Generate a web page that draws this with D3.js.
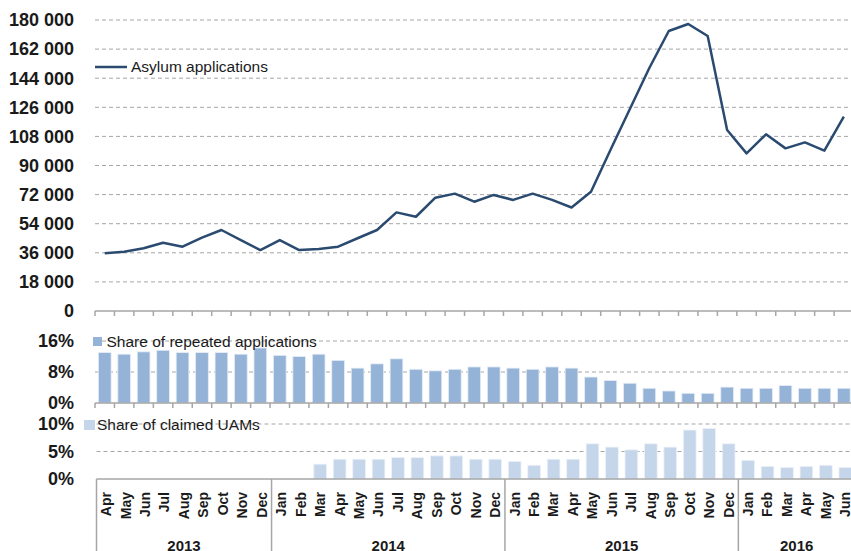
<!DOCTYPE html>
<html>
<head>
<meta charset="utf-8">
<script src="https://cdn.jsdelivr.net/npm/d3@7"></script>
<style>
  body { margin: 0; background: #fff; }
  svg { display: block; font-family: "Liberation Sans", Arial, sans-serif; }
</style>
</head>
<body>
<svg width="851" height="551"></svg>
<script>
// months Apr 2013 .. Jun 2016
const months = ["Apr","May","Jun","Jul","Aug","Sep","Oct","Nov","Dec",
  "Jan","Feb","Mar","Apr","May","Jun","Jul","Aug","Sep","Oct","Nov","Dec",
  "Jan","Feb","Mar","Apr","May","Jun","Jul","Aug","Sep","Oct","Nov","Dec",
  "Jan","Feb","Mar","Apr","May","Jun"]
const yearLabels = ["2013", "2014", "2015", "2016"]
const monthsPerYear = [9, 12, 12, 6]

const asylum = [35700, 36700, 38800, 42200, 39800, 45400, 50100, 43900, 37700,
  43900, 37700, 38300, 39800, 45000, 50100, 61000, 58300, 70100, 72600, 67600, 71800,
  68700, 72600, 68700, 64000, 73800, 99600, 125000, 150300, 173200, 177500, 170100, 112000,
  97500, 109300, 100600, 104300, 99200, 120200]

const repeated = [13.0, 12.6, 13.2, 13.6, 13.0, 13.0, 13.0, 12.6, 14.2,
  12.3, 12.0, 12.6, 11.0, 9.0, 10.1, 11.4, 8.7, 8.3, 8.7, 9.3, 9.3,
  9.0, 8.7, 9.3, 9.0, 6.7, 5.8, 5.1, 3.8, 3.1, 2.5, 2.5, 4.1,
  3.8, 3.8, 4.5, 3.8, 3.8, 3.8]

const uams = [null, null, null, null, null, null, null, null, null,
  null, null, 2.7, 3.6, 3.6, 3.6, 3.9, 3.9, 4.2, 4.2, 3.6, 3.6,
  3.2, 2.5, 3.6, 3.6, 6.4, 5.8, 5.3, 6.4, 5.8, 8.9, 9.2, 6.4,
  3.4, 2.3, 2.1, 2.3, 2.5, 2.1]

const asylumTicks = d3.range(0, 180001, 18000)
const repeatedTicks = [0, 8, 16]
const uamTicks = [0, 5, 10]

const svg = d3.select("svg")
const gridColor = "#a6a6a6"
const axisColor = "#a6a6a6"
const labelX = 74

const loc = d3.formatLocale({decimal: ".", thousands: " ", grouping: [3], currency: ["", ""]})
const fmtNum = loc.format(",")

const idx = d3.range(months.length)
const xTop = d3.scaleBand().domain(idx).range([95, 95 + 39 * 19.45])
const xBot = d3.scaleBand().domain(idx).range([96.5, 96.5 + 39 * 19.45])

const y = d3.scaleLinear().domain([0, 180000]).range([311, 20])
const yRep = d3.scaleLinear().domain([0, 16]).range([403, 341])
const yUam = d3.scaleLinear().domain([0, 10]).range([479, 424])

function gridAndLabels(scale, ticks, fmt, x0) {
  const g = svg.append("g")
  g.selectAll("line.grid")
    .data(ticks.filter(t => t > 0))
    .enter().append("line")
    .attr("x1", x0).attr("x2", 851)
    .attr("y1", d => scale(d)).attr("y2", d => scale(d))
    .attr("stroke", gridColor)
    .attr("stroke-dasharray", "4,3")
  g.selectAll("text")
    .data(ticks)
    .enter().append("text")
    .attr("x", labelX)
    .attr("y", d => scale(d))
    .attr("dy", "0.35em")
    .attr("text-anchor", "end")
    .attr("font-size", 18)
    .attr("font-weight", "bold")
    .attr("fill", "#1a1a1a")
    .text(fmt)
}

function baseline(x, yPos, tickLen) {
  svg.append("line")
    .attr("x1", x.range()[0]).attr("x2", 851)
    .attr("y1", yPos).attr("y2", yPos)
    .attr("stroke", axisColor).attr("stroke-width", 1.5)
  if (tickLen) {
    svg.selectAll(null)
      .data(d3.range(months.length + 1))
      .enter().append("line")
      .attr("x1", i => x.range()[0] + i * x.step())
      .attr("x2", i => x.range()[0] + i * x.step())
      .attr("y1", yPos).attr("y2", yPos + tickLen)
      .attr("stroke", axisColor).attr("stroke-width", 1.5)
  }
}

// ---- top: asylum applications line
gridAndLabels(y, asylumTicks, fmtNum, 95)
baseline(xTop, 311, 5)

const line = d3.line()
  .x((d, i) => xTop(i) + xTop.bandwidth() / 2)
  .y(d => y(d))

svg.append("path")
  .datum(asylum)
  .attr("d", line)
  .attr("fill", "none")
  .attr("stroke", "#2a4a70")
  .attr("stroke-width", 2.5)
  .attr("stroke-linejoin", "round")

svg.append("line")
  .attr("x1", 95).attr("x2", 127).attr("y1", 67).attr("y2", 67)
  .attr("stroke", "#2a4a70").attr("stroke-width", 2.5)
svg.append("text")
  .attr("x", 131).attr("y", 67).attr("dy", "0.35em")
  .attr("font-size", 15.5).attr("fill", "#1a1a1a")
  .text("Asylum applications")

// ---- middle: share of repeated applications
gridAndLabels(yRep, repeatedTicks, d => d + "%", 95)

const barW = 12.7
svg.append("g").selectAll("rect")
  .data(repeated)
  .enter().append("rect")
  .attr("x", (d, i) => xTop(i) + (xTop.bandwidth() - barW) / 2)
  .attr("y", d => yRep(d))
  .attr("width", barW)
  .attr("height", d => yRep(0) - yRep(d))
  .attr("fill", "#95b3d7")
  .attr("stroke", "#e4ecf6").attr("stroke-width", 0.8)

baseline(xTop, 403, 5)

svg.append("rect")
  .attr("x", 93).attr("y", 337).attr("width", 9).attr("height", 9)
  .attr("fill", "#95b3d7")
svg.append("text")
  .attr("x", 106.5).attr("y", 341.5).attr("dy", "0.35em")
  .attr("font-size", 15.5).attr("fill", "#1a1a1a")
  .text("Share of repeated applications")

// ---- bottom: share of claimed UAMs
gridAndLabels(yUam, uamTicks, d => d + "%", 96.5)

svg.append("g").selectAll("rect")
  .data(uams.map((v, i) => ({v, i})).filter(d => d.v != null))
  .enter().append("rect")
  .attr("x", d => xBot(d.i) + (xBot.bandwidth() - barW) / 2)
  .attr("y", d => yUam(d.v))
  .attr("width", barW)
  .attr("height", d => yUam(0) - yUam(d.v))
  .attr("fill", "#c5d6ea")
  .attr("stroke", "#edf2f9").attr("stroke-width", 0.8)

baseline(xBot, 479, 0)

svg.append("rect")
  .attr("x", 84).attr("y", 420).attr("width", 11).attr("height", 10)
  .attr("fill", "#c5d6ea")
svg.append("text")
  .attr("x", 97).attr("y", 425).attr("dy", "0.35em")
  .attr("font-size", 15.5).attr("fill", "#1a1a1a")
  .text("Share of claimed UAMs")

// ---- category axis: months and years
svg.append("g").selectAll("text")
  .data(months)
  .enter().append("text")
  .attr("transform", (d, i) => "translate(" + (xBot(i) + xBot.bandwidth() / 2) + ",492) rotate(-90)")
  .attr("dy", "0.35em")
  .attr("text-anchor", "end")
  .attr("font-size", 14)
  .attr("font-weight", "bold")
  .attr("fill", "#1a1a1a")
  .text(d => d)

const yearStart = d3.cumsum([0].concat(monthsPerYear))
svg.selectAll(null)
  .data(yearStart)
  .enter().append("line")
  .attr("x1", d => xBot.range()[0] + d * xBot.step())
  .attr("x2", d => xBot.range()[0] + d * xBot.step())
  .attr("y1", 479).attr("y2", 551)
  .attr("stroke", axisColor).attr("stroke-width", 1.5)

svg.append("g").selectAll("text")
  .data(yearLabels)
  .enter().append("text")
  .attr("x", (d, i) => xBot.range()[0] + (yearStart[i] + monthsPerYear[i] / 2) * xBot.step())
  .attr("y", 551)
  .attr("text-anchor", "middle")
  .attr("font-size", 15)
  .attr("font-weight", "bold")
  .attr("fill", "#1a1a1a")
  .text(d => d)
</script>
</body>
</html>
